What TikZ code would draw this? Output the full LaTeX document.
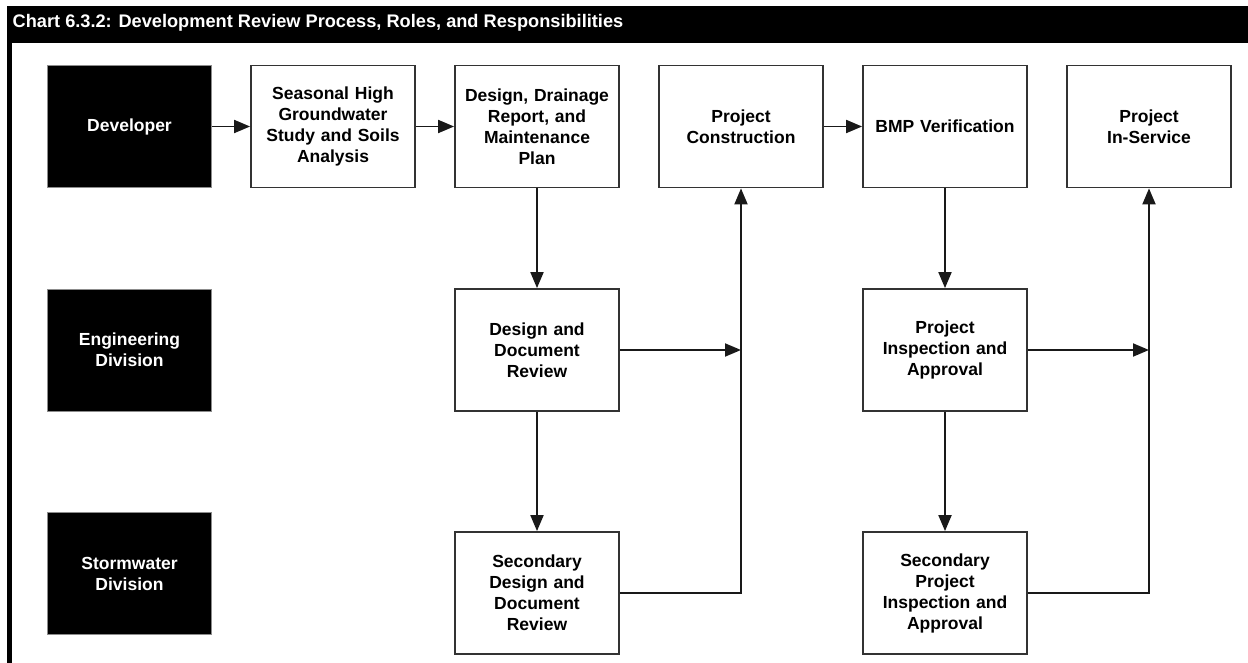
\documentclass[tikz,border=0pt]{standalone}
\usepackage{fontspec}
\setmainfont{Liberation Sans}
\usetikzlibrary{arrows.meta}
\begin{document}
\begin{tikzpicture}[x=1pt,y=-1pt,
  boxfont/.style={font=\fontsize{17.5}{21}\selectfont\bfseries},
  wbox/.style={boxfont, draw=black!80, line width=1.8pt, fill=white,
    minimum width=164pt, minimum height=122pt, align=center, inner sep=2pt, text width=150pt},
  bbox/.style={boxfont, draw=black!45, line width=0.8pt, fill=black, text=white,
    minimum width=164pt, minimum height=122pt, align=center, inner sep=2pt, text width=150pt},
  conn/.style={line width=1.9pt, draw=black!90},
  arr/.style={conn, -{Triangle[length=16pt,width=13pt]}}
]
\useasboundingbox (0,0) rectangle (1248,663);
% header and frame
\fill[black] (6.5,6) rectangle (1248,43);
\fill[black] (6.5,43) rectangle (12,663);
\node[anchor=west, text=white, font=\fontsize{18.2}{21}\selectfont\bfseries, inner sep=0pt] (title) at (12.5,23)
  {Chart 6.3.2: Development Review Process, Roles, and Responsibilities};
% row 1
\node[bbox] (dev) at (129.5,126.5) {Developer};
\node[wbox] (sea) at (333,126.5) {Seasonal High\\Groundwater\\Study and Soils\\Analysis};
\node[wbox] (des) at (537,126.5) {Design, Drainage\\Report, and\\Maintenance\\Plan};
\node[wbox] (con) at (741,126.5) {Project\\Construction};
\node[wbox] (bmp) at (945,126.5) {BMP Verification};
\node[wbox] (ins) at (1149,126.5) {Project\\In-Service};
% row 2
\node[bbox] (eng) at (129.5,350) {Engineering\\Division};
\node[wbox] (ddr) at (537,350) {Design and\\Document\\Review};
\node[wbox] (pia) at (945,350) {Project\\Inspection and\\Approval};
% row 3
\node[bbox] (sto) at (129.5,573.5) {Stormwater\\Division};
\node[wbox] (sdd) at (537,593) {Secondary\\Design and\\Document\\Review};
\node[wbox] (spi) at (945,593) {Secondary\\Project\\Inspection and\\Approval};
% connectors
\draw[arr] (dev) -- (sea);
\draw[arr] (sea) -- (des);
\draw[arr] (des) -- (ddr);
\draw[arr] (ddr) -- (sdd);
\draw[arr] (con) -- (bmp);
\draw[arr] (bmp) -- (pia);
\draw[arr] (pia) -- (spi);
\draw[arr] (sdd.east) -| (con.south);
\coordinate (j1) at (con.south |- ddr.east);
\draw[arr] (ddr.east) -- (j1);
\draw[arr] (spi.east) -| (ins.south);
\coordinate (j2) at (ins.south |- pia.east);
\draw[arr] (pia.east) -- (j2);
\end{tikzpicture}
\end{document}
